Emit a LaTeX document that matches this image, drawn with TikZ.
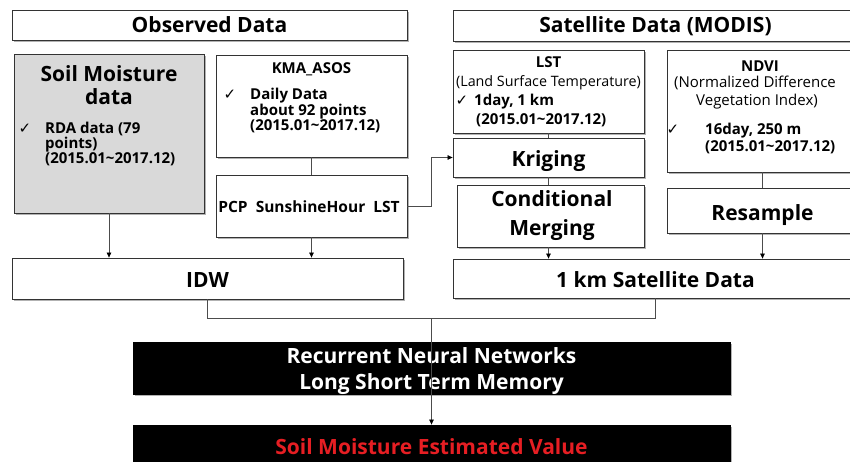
\documentclass[tikz,border=0pt]{standalone}
\usepackage{fontspec}
\setmainfont{Open Sans}
\newfontfamily\symfont{DejaVu Sans}
\usetikzlibrary{arrows.meta,shadows}
\definecolor{smgray}{RGB}{217,217,217}
\definecolor{estred}{RGB}{230,30,35}
\tikzset{
  box/.style={draw=black!80, line width=0.8pt, fill=white, inner sep=0pt,
    drop shadow={shadow xshift=1.8pt, shadow yshift=-1.8pt, fill=black!55, opacity=0.55}},
  blackbox/.style={box, fill=black, draw=black},
  txt/.style={inner sep=0pt, anchor=base},
  ltxt/.style={inner sep=0pt, anchor=base west},
  bigf/.style={font=\fontsize{21}{24}\selectfont\bfseries},
  bodyf/.style={font=\fontsize{15}{18}\selectfont\bfseries},
  smallf/.style={font=\fontsize{14.3}{16}\selectfont},
  chk/.style={inner sep=0pt, anchor=base, font=\fontsize{15}{17}\selectfont\symfont},
  conn/.style={draw=black!70, line width=0.7pt},
  arr/.style={conn, -{Triangle[length=5pt,width=4.5pt,color=black]}},
}
\begin{document}
\begin{tikzpicture}[x=1pt,y=-1pt]
\useasboundingbox (0,0) rectangle (850,462);
% headers
\node[box, minimum width=395pt, minimum height=30pt] (obs) at (209.5,25) {};
\node[txt, bigf] (obst) at (209.5,33) {Observed Data};
\node[box, minimum width=405pt, minimum height=31pt] (sat) at (655.5,25.5) {};
\node[txt, bigf] (satt) at (655.5,33) {Satellite Data (MODIS)};
% soil moisture
\node[box, fill=smgray, minimum width=190pt, minimum height=159pt] (sm) at (109,133.5) {};
\node[txt, bigf] (sm1) at (109,82) {Soil Moisture};
\node[txt, bigf] (sm2) at (109,105) {data};
\node[chk] (smc) at (25,134) {✓};
\node[ltxt, bodyf] (sm3) at (45,134) {RDA data (79};
\node[ltxt, bodyf] (sm4) at (45,148.5) {points)};
\node[ltxt, bodyf] (sm5) at (45,163.5) {(2015.01\textasciitilde 2017.12)};
% KMA
\node[box, minimum width=191pt, minimum height=102pt] (kma) at (311.5,106) {};
\node[txt, bodyf] (kma1) at (311.5,74) {KMA\_ASOS};
\node[chk] (kmac) at (230,100) {✓};
\node[ltxt, bodyf] (kma2) at (250,100) {Daily Data};
\node[ltxt, bodyf] (kma3) at (250,115.5) {about 92 points};
\node[ltxt, bodyf] (kma4) at (250,131) {(2015.01\textasciitilde 2017.12)};
% PCP
\node[box, minimum width=191pt, minimum height=62pt] (pcp) at (311.5,206) {};
\node[txt, font=\fontsize{15.5}{18}\selectfont\bfseries] (pcpt) at (309,212) {PCP\ \ SunshineHour\ \ LST};
% LST
\node[box, minimum width=191pt, minimum height=83pt] (lst) at (548.5,91.5) {};
\node[txt, bodyf] (lst1) at (548.5,68) {LST};
\node[txt, smallf] (lst2) at (548.5,87) {(Land Surface Temperature)};
\node[chk] (lstc) at (462,106) {✓};
\node[ltxt, bodyf] (lst3) at (474,106) {1day, 1 km};
\node[ltxt, bodyf] (lst4) at (476,125) {(2015.01\textasciitilde 2017.12)};
% Kriging
\node[box, minimum width=191pt, minimum height=39pt] (krig) at (548.5,157.5) {};
\node[txt, bigf] (krigt) at (548.5,167) {Kriging};
% Conditional merging
\node[box, minimum width=187pt, minimum height=62pt] (cm) at (550.5,216) {};
\node[txt, bigf] (cm1) at (552,207) {Conditional};
\node[txt, bigf] (cm2) at (552,235) {Merging};
% NDVI
\node[box, minimum width=191pt, minimum height=122pt] (ndvi) at (762.5,111) {};
\node[txt, bodyf] (ndvi1) at (760,72) {NDVI};
\node[txt, font=\fontsize{15}{17}\selectfont] (ndvi2) at (755,88) {(Normalized Difference};
\node[txt, font=\fontsize{15}{17}\selectfont] (ndvi3) at (757,106) {Vegetation Index)};
\node[chk] (ndvic) at (673,135) {✓};
\node[ltxt, bodyf] (ndvi4) at (705,135) {16day, 250 m};
\node[ltxt, bodyf] (ndvi5) at (705,152) {(2015.01\textasciitilde 2017.12)};
% Resample
\node[box, minimum width=191pt, minimum height=45pt] (res) at (762.5,210.5) {};
\node[txt, bigf] (rest) at (762.5,221) {Resample};
% IDW and 1 km
\node[box, minimum width=391pt, minimum height=41pt] (idw) at (207.5,278.5) {};
\node[txt, bigf] (idwt) at (207.5,287) {IDW};
\node[box, minimum width=405pt, minimum height=39pt] (km) at (655.5,278.5) {};
\node[txt, bigf] (kmt) at (655.5,287) {1 km Satellite Data};
% RNN and result
\node[blackbox, minimum width=597pt, minimum height=52pt] (rnn) at (431.5,368) {};
\node[txt, bigf, text=white] (rnn1) at (431.5,363) {Recurrent Neural Networks};
\node[txt, bigf, text=white] (rnn2) at (431.5,389) {Long Short Term Memory};
\node[blackbox, minimum width=597pt, minimum height=52pt] (est) at (431.5,451) {};
\node[txt, bigf, text=estred] (estt) at (431.5,454) {Soil Moisture Estimated Value};
% connectors
\draw[arr] (sm.south) -- (sm.south |- idw.north);
\draw[conn] (kma.south) -- (pcp.north);
\draw[arr] (pcp.south) -- (pcp.south |- idw.north);
\draw[arr] (pcp.east) -- ++(24,0) |- (krig.west);
\draw[conn] (lst.south) -- (krig.north);
\draw[conn] (krig.south) -- (krig.south |- cm.north);
\draw[arr] (krig.south |- cm.south) -- (krig.south |- km.north);
\draw[conn] (ndvi.south) -- (res.north);
\draw[arr] (res.south) -- (res.south |- km.north);
\coordinate (j) at (431.5,318.5);
\draw[conn] (idw.south) |- (j) -| (km.south);
\draw[arr] (j) -- (est.north);
\end{tikzpicture}
\end{document}
